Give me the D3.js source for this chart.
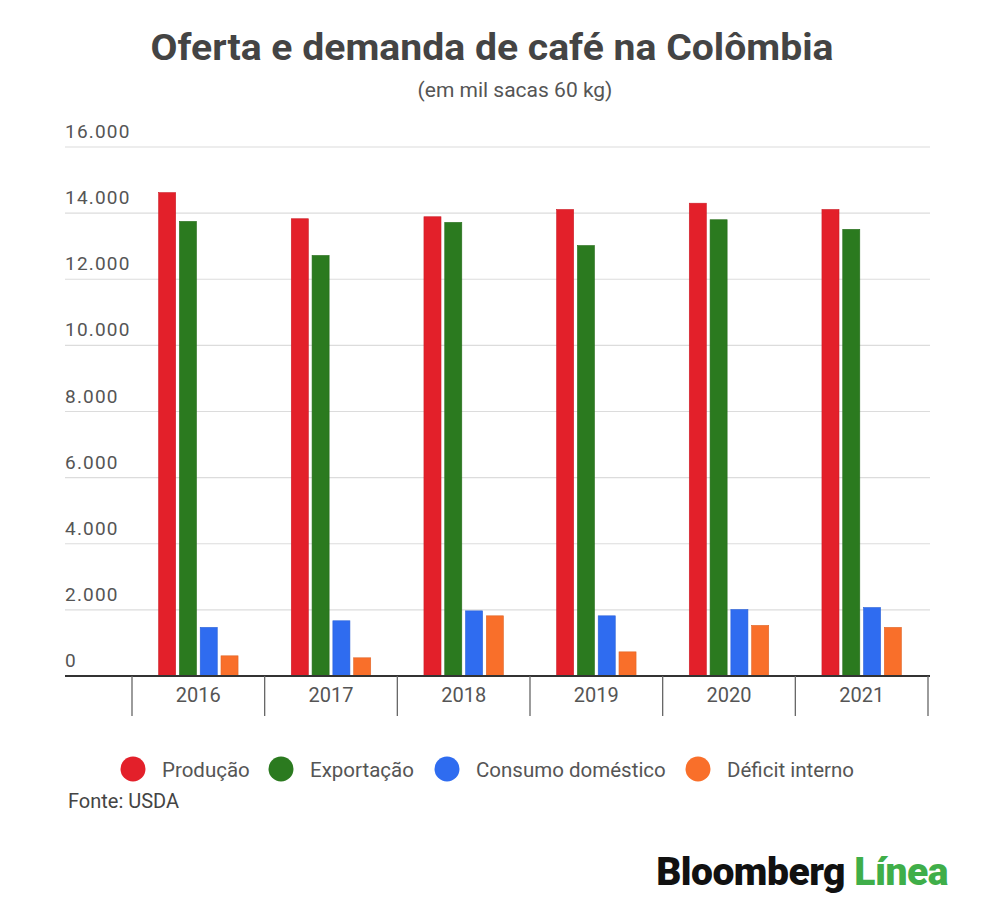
<!DOCTYPE html>
<html>
<head>
<meta charset="utf-8">
<script src="https://cdn.jsdelivr.net/npm/d3@7"></script>
<style>
  body { margin: 0; background: #fff; }
  text { font-family: Roboto, "Noto Sans", sans-serif; }
</style>
</head>
<body>
<div id="chart"></div>
<script>
const years = ['2016', '2017', '2018', '2019', '2020', '2021'];
const seriesNames = ['Produção', 'Exportação', 'Consumo doméstico', 'Déficit interno'];
const producao = [14620, 13830, 13890, 14110, 14300, 14110];
const exportacao = [13750, 12720, 13720, 13020, 13800, 13510];
const consumo = [1470, 1670, 1970, 1820, 2010, 2070];
const deficit = [610, 550, 1820, 730, 1530, 1470];
const yTicks = [0, 2000, 4000, 6000, 8000, 10000, 12000, 14000, 16000];

const seriesValues = [producao, exportacao, consumo, deficit];

const W = 1000, H = 920;

const palette = d3.scaleOrdinal()
  .domain(seriesNames)
  .range(['#e3202a', '#2b7a1f', '#2f6cf0', '#f96f2a']);

const svg = d3.select('#chart').append('svg')
  .attr('width', W)
  .attr('height', H);

// title
svg.append('text')
  .attr('x', 492).attr('y', 60)
  .attr('text-anchor', 'middle')
  .style('font-size', '36px')
  .style('font-weight', 'bold')
  .style('fill', '#444')
  .attr('textLength', 683)
  .attr('lengthAdjust', 'spacingAndGlyphs')
  .text('Oferta e demanda de café na Colômbia');

svg.append('text')
  .attr('x', 515).attr('y', 97)
  .attr('text-anchor', 'middle')
  .style('font-size', '21px')
  .style('fill', '#555')
  .text('(em mil sacas 60 kg)');

const y = d3.scaleLinear()
  .domain([0, 16000])
  .range([676, 147]);

const x = d3.scaleBand()
  .domain(years)
  .range([132, 928]);

const xInner = d3.scaleBand()
  .domain(seriesNames)
  .range([0, x.bandwidth()])
  .paddingInner(0.18)
  .paddingOuter(1.28);

const fmt = d3.formatLocale({decimal: ',', thousands: '.', grouping: [3], currency: ['', '']}).format(',d');

// gridlines + labels
const grid = svg.append('g');
grid.selectAll('line')
  .data(yTicks.filter(t => t > 0))
  .join('line')
  .attr('x1', 65).attr('x2', 930)
  .attr('y1', d => y(d)).attr('y2', d => y(d))
  .style('stroke', '#dcdcdc')
  .style('stroke-width', 1.2);

grid.selectAll('text')
  .data(yTicks)
  .join('text')
  .attr('x', 65)
  .attr('y', d => y(d) - 9)
  .style('font-size', '19px')
  .style('letter-spacing', '1.2px')
  .style('fill', '#555')
  .text(d => fmt(d));

// bars
const groups = svg.append('g')
  .selectAll('g')
  .data(years)
  .join('g')
  .attr('transform', d => `translate(${x(d)},0)`);

groups.selectAll('rect')
  .data((d, i) => seriesNames.map((s, j) => ({ s: s, v: seriesValues[j][i] })))
  .join('rect')
  .attr('x', d => xInner(d.s))
  .attr('width', xInner.bandwidth())
  .attr('y', d => y(d.v))
  .attr('height', d => y(0) - y(d.v))
  .style('fill', d => palette(d.s))
  .style('stroke', d => d3.color(palette(d.s)).darker(0.3))
  .style('stroke-width', 0.6);

// baseline
svg.append('line')
  .attr('x1', 65).attr('x2', 930)
  .attr('y1', y(0)).attr('y2', y(0))
  .style('stroke', '#333')
  .style('stroke-width', 2);

// category separators
const xAxis = svg.append('g')
  .attr('transform', `translate(0,${y(0)})`)
  .call(d3.axisBottom(x).tickSize(0).tickPadding(12));
xAxis.select('.domain').remove();
xAxis.selectAll('text')
  .style('font-size', '20px')
  .style('fill', '#555')
  .style('font-family', 'Roboto, sans-serif');

svg.append('g')
  .selectAll('line')
  .data(years.map(d => x(d)).concat([x(years[years.length - 1]) + x.bandwidth()]))
  .join('line')
  .attr('x1', d => d).attr('x2', d => d)
  .attr('y1', y(0)).attr('y2', 716)
  .style('stroke', '#666')
  .style('stroke-width', 1.3);

// legend
const legendX = [133, 281, 447, 698];
const legend = svg.append('g')
  .selectAll('g')
  .data(seriesNames)
  .join('g')
  .attr('transform', (d, i) => `translate(${legendX[i]},769)`);

legend.append('circle')
  .attr('r', 12.5)
  .style('fill', d => palette(d));

legend.append('text')
  .attr('x', 29)
  .attr('y', 7.5)
  .style('font-size', '20.5px')
  .style('fill', '#555')
  .text(d => d);

svg.append('text')
  .attr('x', 68).attr('y', 808)
  .style('font-size', '20px')
  .style('fill', '#444')
  .text('Fonte: USDA');

// logo
const logo = svg.append('text')
  .attr('x', 948).attr('y', 885)
  .attr('text-anchor', 'end')
  .style('font-size', '39px')
  .style('font-weight', '900')
  .style('letter-spacing', '-0.5px');
logo.append('tspan').style('fill', '#111').text('Bloomberg ');
logo.append('tspan').style('fill', '#3fae49').text('Línea');
</script>
</body>
</html>
